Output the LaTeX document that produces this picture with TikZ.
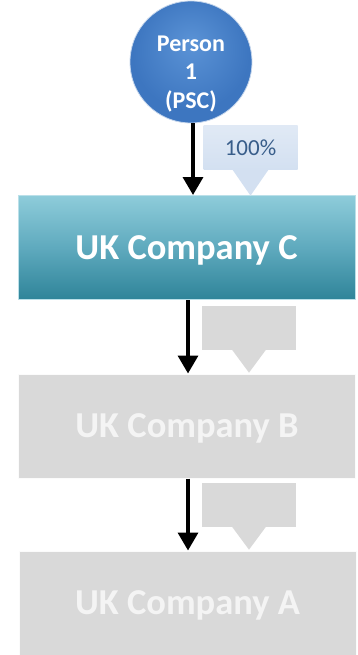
\documentclass[tikz,border=0pt]{standalone}
\usepackage{fontspec}
\setmainfont{Carlito}
\usepackage{tikz}
\usepackage{xcolor}
\usetikzlibrary{
    arrows.meta,
    calc,
    positioning
}

\definecolor{persontop}{HTML}{5B93D6}
\definecolor{personmid}{HTML}{3D76C0}
\definecolor{personrim}{HTML}{27579A}
\definecolor{ctop}{HTML}{8ECCDA}
\definecolor{cmid}{HTML}{5FAABE}
\definecolor{cbot}{HTML}{2F8499}
\definecolor{pctfill}{HTML}{D3E0F1}
\definecolor{pcttext}{HTML}{385D8A}
\definecolor{greybox}{HTML}{D9D9D9}
\definecolor{greytext}{HTML}{F4F4F4}

\pgfdeclareradialshading{personball}{\pgfpoint{0bp}{8bp}}{
    color(0bp)=(persontop); color(24bp)=(personmid); color(44bp)=(personmid); color(50bp)=(personrim)}

\tikzset{
    company/.style={minimum width=337pt, minimum height=104pt, inner sep=0pt, text depth=0pt,
        font=\fontsize{36.5}{40}\selectfont\bfseries},
    share/.style={minimum width=94pt, minimum height=44pt, inner sep=0pt},
    flow/.style={-{Triangle[width=20pt,length=18pt]}, line width=3.5pt}
}

\begin{document}
\begin{tikzpicture}[x=1pt, y=1pt]
    \useasboundingbox (0,0) rectangle (358,-655);

    \node (per) at (191, -62) [circle, minimum size=122pt, inner sep=0pt, shading=personball,
        draw=white!70!personmid, line width=0.8pt,
        label={[yshift=-12pt, text=white, align=center,
            font=\fontsize{24}{28.5}\selectfont\bfseries]center:Person\\1\\(PSC)}] {};

    \node (coC) at (186.5, -247.5) [company, top color=ctop, bottom color=cbot, middle color=cmid,
        draw=ctop!60!white, line width=1pt, text=white] {UK Company C};
    \node (coB) at (187, -426) [company, fill=greybox, draw=white!90!greybox, line width=1pt,
        text=greytext] {UK Company B};
    \node (coA) at (187.5, -603) [company, fill=greybox, draw=white!90!greybox, line width=1pt,
        text=greytext] {UK Company A};

    % shareholding callouts
    \node (pct) at (250.5, -147.5) [share, top color=pctfill!70!white, bottom color=pctfill,
        text=pcttext, font=\fontsize{23}{26}\selectfont] {100\%};
    \node (shB) at (249, -327.5) [share, fill=greybox] {};
    \node (shA) at (249, -504.5) [share, fill=greybox] {};

    \fill[pctfill] ($(pct.south)+(-18,0)$) -- ($(pct.south)+(18,0)$) -- ($(pct.south)+(0,-26)$) -- cycle;
    \fill[greybox] ($(shB.south)+(-17,0)$) -- ($(shB.south)+(17,0)$) -- ($(shB.south)+(0,-23)$) -- cycle;
    \fill[greybox] ($(shA.south)+(-17,0)$) -- ($(shA.south)+(17,0)$) -- ($(shA.south)+(0,-23)$) -- cycle;

    \draw[flow] ([xshift=2pt]per.south) -- ([xshift=2pt]per.south |- coC.north);
    \draw[flow] ([xshift=1.5pt]coC.south) -- ([xshift=1.5pt]coC.south |- coB.north);
    \draw[flow] ([xshift=1pt]coB.south) -- ([xshift=1pt]coB.south |- coA.north);
\end{tikzpicture}
\end{document}
